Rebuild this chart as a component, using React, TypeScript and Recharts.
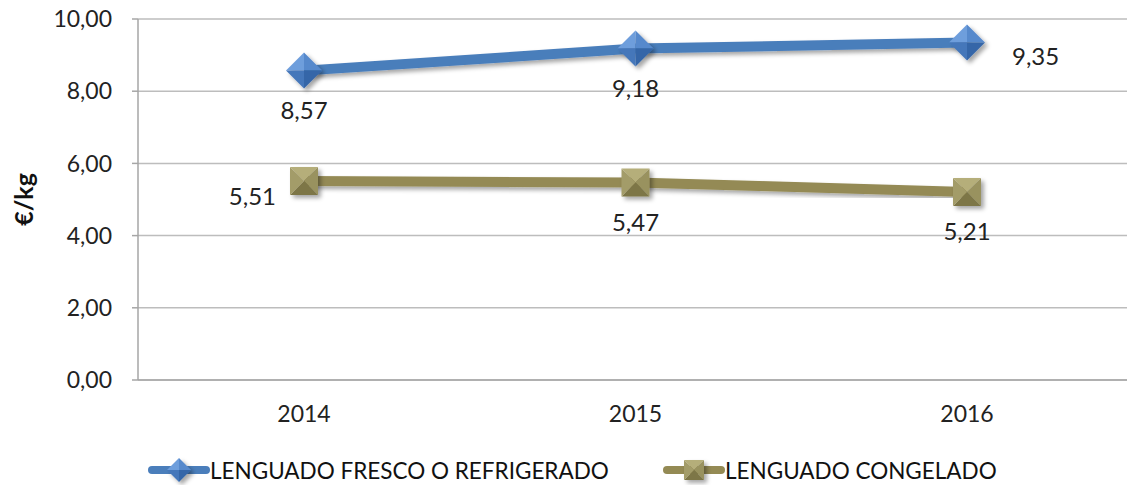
import React from "react";
import { LineChart, Line, XAxis, YAxis, CartesianGrid, LabelList } from "recharts";

const years = ["2014", "2015", "2016"];
const fresco = [8.57, 9.18, 9.35];
const congelado = [5.51, 5.47, 5.21];
const yTicks = [0, 2, 4, 6, 8, 10];
const frescoName = "LENGUADO FRESCO O REFRIGERADO";
const congeladoName = "LENGUADO CONGELADO";

// label placement per point (style only)
const frescoLabelPos = ["below", "below", "right"];
const congeladoLabelPos = ["left", "below", "below"];

const data = years.map((y, i) => ({ year: y, fresco: fresco[i], congelado: congelado[i] }));

const FONT = "Lato, 'Open Sans', sans-serif";
const fmt = (v: number) => v.toFixed(2).replace(".", ",");

const BLUE = "#4A7EBB";
const OLIVE = "#948A54";

const Diamond = ({ cx, cy, r = 18 }: any) => {
  if (cx == null || cy == null) return null;
  return (
    <g filter="url(#shadow)">
      <polygon points={`${cx - r},${cy} ${cx},${cy - r} ${cx},${cy}`} fill="#6E9EDC" />
      <polygon points={`${cx},${cy - r} ${cx + r},${cy} ${cx},${cy}`} fill="#5689CC" />
      <polygon points={`${cx + r},${cy} ${cx},${cy + r} ${cx},${cy}`} fill="#3566A8" />
      <polygon points={`${cx},${cy + r} ${cx - r},${cy} ${cx},${cy}`} fill="#4477BA" />
    </g>
  );
};

const Square = ({ cx, cy, r = 14 }: any) => {
  if (cx == null || cy == null) return null;
  const x0 = cx - r, x1 = cx + r, y0 = cy - r, y1 = cy + r;
  return (
    <g filter="url(#shadow)">
      <polygon points={`${x0},${y0} ${x1},${y0} ${cx},${cy}`} fill="#B5AE7A" />
      <polygon points={`${x1},${y0} ${x1},${y1} ${cx},${cy}`} fill="#99925E" />
      <polygon points={`${x1},${y1} ${x0},${y1} ${cx},${cy}`} fill="#7D7647" />
      <polygon points={`${x0},${y1} ${x0},${y0} ${cx},${cy}`} fill="#A39C69" />
    </g>
  );
};

const makeLabel = (positions: string[]) => (props: any) => {
  const { x, y, value, index } = props;
  const pos = positions[index];
  let tx = x, ty = y + 39;
  let anchor: "middle" | "start" | "end" = "middle";
  if (pos === "right") { tx = x + 45; ty = y + 13; anchor = "start"; }
  if (pos === "left") { tx = x - 28; ty = y + 14; anchor = "end"; }
  return (
    <text x={tx} y={ty} textAnchor={anchor} dominantBaseline="central" fontFamily={FONT} fontSize={24} fill="#222">
      {fmt(value)}
    </text>
  );
};

const LegendItem = ({ color, kind, label }: any) => (
  <div style={{ display: "flex", alignItems: "center" }}>
    <svg width={62} height={30} style={{ overflow: "visible" }}>
      <line x1={4} y1={15} x2={58} y2={15} stroke={color} strokeWidth={8} strokeLinecap="round" />
      {kind === "diamond" ? <Diamond cx={31} cy={15} r={12} /> : <Square cx={31} cy={15} r={10} />}
    </svg>
    <span style={{ fontFamily: FONT, fontSize: 22.5, color: "#111", marginLeft: 0 }}>{label}</span>
  </div>
);

export default function App() {
  return (
    <div style={{ position: "absolute", left: 0, top: 0, width: 1127, height: 485, background: "#fff" }}>
      <LineChart width={1127} height={485} data={data} margin={{ top: 19, right: -6, left: 0, bottom: 75 }}>
        <defs>
          <filter id="shadow" x="-50%" y="-50%" width="200%" height="200%">
            <feDropShadow dx={3} dy={3} stdDeviation={2} floodColor="#000" floodOpacity={0.35} />
          </filter>
        </defs>
        <CartesianGrid vertical={false} stroke="#BDBDBD" strokeWidth={1.5} />
        <XAxis
          dataKey="year"
          height={30}
          padding={{ left: 166, right: 166 }}
          axisLine={{ stroke: "#A6A6A6", strokeWidth: 1.5 }}
          tickLine={false}
          tick={{ fontFamily: FONT, fontSize: 23, fill: "#222" }}
          tickMargin={20}
        />
        <YAxis
          width={138}
          domain={[0, 10]}
          ticks={yTicks}
          tickFormatter={fmt}
          axisLine={{ stroke: "#A6A6A6", strokeWidth: 1.5 }}
          tickLine={{ stroke: "#A6A6A6", strokeWidth: 1.5 }}
          tickSize={6}
          tickMargin={20}
          tick={{ fontFamily: FONT, fontSize: 23, fill: "#222" }}
          label={{
            value: "€/kg",
            angle: -90,
            position: "insideLeft",
            offset: 24,
            style: { fontFamily: FONT, fontSize: 25, fontWeight: 700, fill: "#111", textAnchor: "middle" },
          }}
        />
        <Line
          type="linear"
          dataKey="congelado"
          name={congeladoName}
          stroke={OLIVE}
          strokeWidth={10}
          filter="url(#shadow)"
          dot={(p: any) => <Square key={`s${p.index}`} cx={p.cx} cy={p.cy} />}
          activeDot={false}
          isAnimationActive={false}
        >
          <LabelList dataKey="congelado" content={makeLabel(congeladoLabelPos)} />
        </Line>
        <Line
          type="linear"
          dataKey="fresco"
          name={frescoName}
          stroke={BLUE}
          strokeWidth={10}
          filter="url(#shadow)"
          dot={(p: any) => <Diamond key={`d${p.index}`} cx={p.cx} cy={p.cy} />}
          activeDot={false}
          isAnimationActive={false}
        >
          <LabelList dataKey="fresco" content={makeLabel(frescoLabelPos)} />
        </Line>
      </LineChart>
      <div style={{ position: "absolute", left: 148, top: 455 }}>
        <LegendItem color={BLUE} kind="diamond" label={frescoName} />
      </div>
      <div style={{ position: "absolute", left: 663, top: 455 }}>
        <LegendItem color={OLIVE} kind="square" label={congeladoName} />
      </div>
    </div>
  );
}
